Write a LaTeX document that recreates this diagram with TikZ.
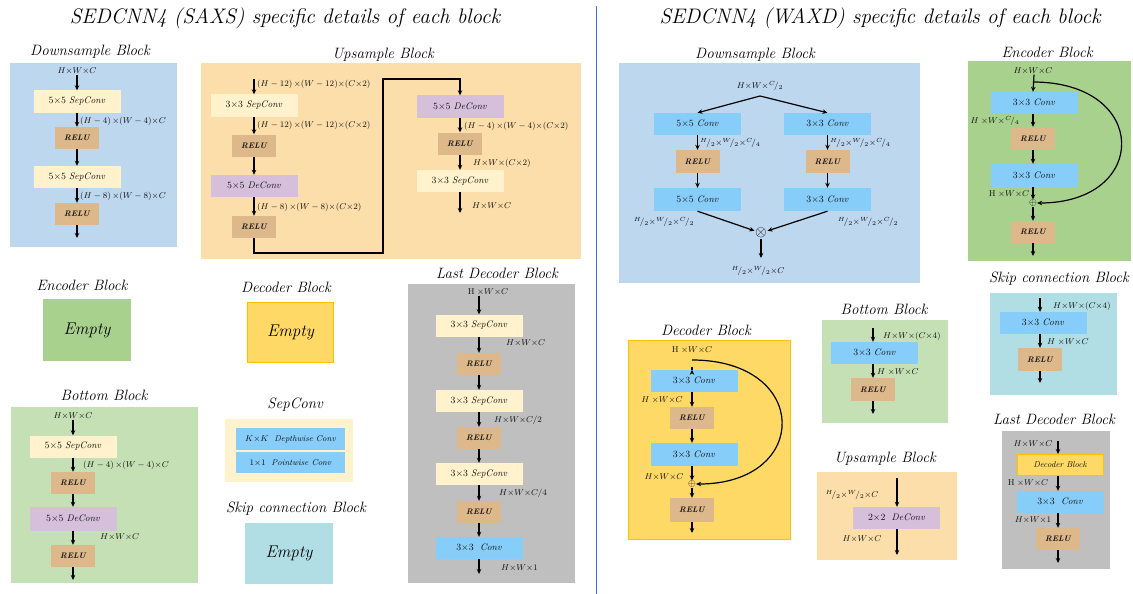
\RequirePackage{fix-cm}
\documentclass[tikz,border=0pt]{standalone}
\usetikzlibrary{arrows.meta,calc}
\definecolor{dsblue}{HTML}{BDD7EE}
\definecolor{sepy}{HTML}{FFF2CC}
\definecolor{reluc}{HTML}{DCB88A}
\definecolor{decv}{HTML}{D5BFDB}
\definecolor{upor}{HTML}{FCDEAA}
\definecolor{greyc}{HTML}{BFBFBF}
\definecolor{encg}{HTML}{A9D18E}
\definecolor{decy}{HTML}{FFD966}
\definecolor{decor}{HTML}{FFC000}
\definecolor{botg}{HTML}{C5E0B4}
\definecolor{convb}{HTML}{87CDF9}
\definecolor{skipb}{HTML}{B0DEE4}
\definecolor{divc}{HTML}{4472C4}
\definecolor{ink}{HTML}{101010}
\newcommand{\sfr}[2]{{}^{#1}\!/_{#2}}
\begin{document}
\begin{tikzpicture}[x=1pt,y=-1pt,
  head/.style={font=\fontsize{21}{25}\selectfont\itshape, inner sep=0},
  ttl/.style={font=\fontsize{15}{17}\selectfont\itshape, inner sep=0},
  lbl/.style={font=\fontsize{8.5}{10}\selectfont, inner sep=0, text=ink},
  bx/.style={minimum width=87pt, minimum height=22pt, inner sep=0, text=ink,
             font=\fontsize{9.5}{11}\selectfont},
  sep/.style={bx, fill=sepy},
  dec/.style={bx, fill=decv},
  conv/.style={bx, fill=convb},
  relu/.style={bx, minimum width=44pt, fill=reluc,
               font=\fontsize{8}{9}\selectfont\bfseries\itshape},
  emptybox/.style={minimum width=88pt, minimum height=62pt, inner sep=0,
                   font=\fontsize{17}{19}\selectfont\itshape},
  arr/.style={-{Stealth[length=5pt,width=4.5pt]}, line width=1.2pt},
  sum/.style={inner sep=0, font=\fontsize{10}{10}\selectfont},
]
\useasboundingbox (0,0) rectangle (1133,594);

% headings and divider
\node[head] (hl) at (285,18) {SEDCNN4 (SAXS) specific details of each block};
\node[head] (hr) at (880,18) {SEDCNN4 (WAXD) specific details of each block};
\draw[divc, line width=1pt] (596,6) -- (596,594);

% ---------------- SAXS: downsample block
\node[ttl] at (90,52) {Downsample Block};
\fill[dsblue] (10,63) rectangle (177,247);
\node[lbl] (a0) at (77,71) {$H{\times}W{\times}C$};
\node[sep] (a1) at (77,101.5) {$5{\times}5$ \textit{SepConv}};
\node[relu] (a2) at (77,138) {RELU};
\node[sep] (a3) at (77,177) {$5{\times}5$ \textit{SepConv}};
\node[relu] (a4) at (77,214) {RELU};
\coordinate (a5) at (77,238);
\draw[arr] (a0.south) -- (a1.north);
\draw[arr] (a1) -- (a2);
\draw[arr] (a2) -- (a3);
\draw[arr] (a3) -- (a4);
\draw[arr] (a4.south) -- (a5);
\node[lbl, anchor=west] at (80,121) {$(H-4)\,{\times}(W-4){\times}C$};
\node[lbl, anchor=west] at (80,196) {$(H-8)\,{\times}(W-8){\times}C$};

% ---------------- SAXS: upsample block
\node[ttl] at (383,55) {Upsample Block};
\fill[upor] (201,63) rectangle (581,259);
\coordinate (b0) at (254,79);
\node[sep] (b1) at (254,105.5) {$3{\times}3$ \textit{SepConv}};
\node[relu] (b2) at (254,145.5) {RELU};
\node[dec] (b3) at (254,186) {$5{\times}5$ \textit{DeConv}};
\node[relu] (b4) at (254,227) {RELU};
\coordinate (bk1) at (383,253);
\coordinate (bk2) at (383,79);
\node[dec] (b7) at (460,106.5) {$5{\times}5$ \textit{DeConv}};
\node[relu] (b8) at (460,143.5) {RELU};
\node[sep] (b9) at (460,181) {$3{\times}3$ \textit{SepConv}};
\coordinate (b10) at (460,213);
\draw[arr] (b0) -- (b1.north);
\draw[arr] (b1) -- (b2);
\draw[arr] (b2) -- (b3);
\draw[arr] (b3) -- (b4);
\draw[arr, line width=1.4pt] (b4.south) |- (bk1) -- (bk2) -| (b7.north);
\draw[arr] (b7) -- (b8);
\draw[arr] (b8) -- (b9);
\draw[arr] (b9.south) -- (b10);
\node[lbl, anchor=west] at (257,84) {$(H-12)\,{\times}(W-12){\times}(C{\times}2)$};
\node[lbl, anchor=west] at (257,125) {$(H-12)\,{\times}(W-12){\times}(C{\times}2)$};
\node[lbl, anchor=west] at (257,207) {$(H-8)\,{\times}(W-8){\times}(C{\times}2)$};
\node[lbl, anchor=west] at (464,126) {$(H-4)\,{\times}(W-4){\times}(C{\times}2)$};
\node[lbl, anchor=west] at (473,163) {$H{\times}W{\times}(C{\times}2)$};
\node[lbl, anchor=west] at (472,206) {$H{\times}W{\times}C$};

% ---------------- SAXS: encoder / decoder blocks
\node[ttl] at (82,285) {Encoder Block};
\node[emptybox, fill=encg] (enc) at (87,330) {Empty};
\node[ttl] at (286,287) {Decoder Block};
\node[emptybox, fill=decy, draw=decor, line width=1pt, minimum width=86pt,
      minimum height=60pt] (dcd) at (290.5,332.5) {Empty};

% ---------------- SAXS: bottom block
\node[ttl] at (104,395) {Bottom Block};
\fill[botg] (11,407) rectangle (198,583);
\node[lbl] (c0) at (73,416) {$H{\times}W{\times}C$};
\node[sep] (c1) at (73,446.5) {$5{\times}5$ \textit{SepConv}};
\node[relu] (c2) at (73,483) {RELU};
\node[dec, minimum height=24pt] (c3) at (73,519) {$5{\times}5$ \textit{DeConv}};
\node[relu] (c4) at (73,556) {RELU};
\coordinate (c5) at (73,580);
\draw[arr] (c0.south) -- (c1.north);
\draw[arr] (c1) -- (c2);
\draw[arr] (c2) -- (c3);
\draw[arr] (c3) -- (c4);
\draw[arr] (c4.south) -- (c5);
\node[lbl, anchor=west] at (83,465) {$(H-4)\,{\times}(W-4){\times}C$};
\node[lbl, anchor=west] at (100,537) {$H{\times}W{\times}C$};

% ---------------- SAXS: separable convolution
\node[ttl] at (295,405) {SepConv};
\fill[sepy] (225,419) rectangle (353,482);
\node[conv, minimum width=109pt, font=\fontsize{8.5}{10}\selectfont] (sc1) at (290.5,439) {$K{\times}K$\ \ \textit{Depthwise Conv}};
\node[conv, minimum width=109pt, minimum height=21pt, font=\fontsize{8.5}{10}\selectfont] (sc2) at (290.5,462.5) {$1{\times}1$\ \ \textit{Pointwise Conv}};

% ---------------- SAXS: skip connection block
\node[ttl] at (296,509) {Skip connection Block};
\node[emptybox, fill=skipb, minimum height=61pt] (skp) at (289,553.5) {Empty};

% ---------------- SAXS: last decoder block
\node[ttl] at (497,273) {Last Decoder Block};
\fill[greyc] (408,284) rectangle (575,583);
\node[lbl] (d0) at (488,292) {$\mathrm{H}\;{\times}W{\times}C$};
\node[sep] (d1) at (479,325.5) {$3{\times}3$ \textit{SepConv}};
\node[relu] (d2) at (479,364) {RELU};
\node[sep] (d3) at (479,401) {$3{\times}3$ \textit{SepConv}};
\node[relu] (d4) at (479,438) {RELU};
\node[sep] (d5) at (479,474) {$3{\times}3$ \textit{SepConv}};
\node[relu] (d6) at (479,512) {RELU};
\node[conv] (d7) at (479,548) {$3{\times}3$\ \ \textit{Conv}};
\coordinate (d8) at (479,574);
\draw[arr] (d1.north |- d0.south) -- (d1.north);
\draw[arr] (d1) -- (d2);
\draw[arr] (d2) -- (d3);
\draw[arr] (d3) -- (d4);
\draw[arr] (d4) -- (d5);
\draw[arr] (d5) -- (d6);
\draw[arr] (d6) -- (d7);
\draw[arr] (d7.south) -- (d8);
\node[lbl, anchor=west] at (506,343) {$H{\times}W{\times}C$};
\node[lbl, anchor=west] at (494,420) {$H{\times}W{\times}C/2$};
\node[lbl, anchor=west] at (499,493) {$H{\times}W{\times}C/4$};
\node[lbl, anchor=west] at (501,568) {$H{\times}W{\times}1$};

% ---------------- WAXD: downsample block
\node[ttl] at (755,55) {Downsample Block};
\fill[dsblue] (619,63) rectangle (920,283);
\node[lbl] (e0) at (760,86) {$H{\times}W{\times}\sfr{C}{2}$};
\coordinate (es) at (760,96);
\node[conv] (el1) at (697.5,124) {$5{\times}5$ \textit{Conv}};
\node[conv] (er1) at (827.5,124) {$3{\times}3$ \textit{Conv}};
\node[relu, minimum height=23pt] (el2) at (697.5,161.5) {RELU};
\node[relu, minimum height=23pt] (er2) at (827.5,161.5) {RELU};
\node[conv, minimum height=23pt] (el3) at (697.5,199.5) {$5{\times}5$ \textit{Conv}};
\node[conv, minimum height=23pt] (er3) at (827.5,199.5) {$3{\times}3$ \textit{Conv}};
\node[inner sep=0.5pt, font=\fontsize{15}{15}\selectfont] (ot) at (761,233) {$\otimes$};
\coordinate (eo) at (761,258);
\draw[arr] (es) -- (el1.north);
\draw[arr] (es) -- (er1.north);
\draw[arr] (el1) -- (el2);
\draw[arr] (er1) -- (er2);
\draw[arr] (el2) -- (el3);
\draw[arr] (er2) -- (er3);
\draw[arr] (el3.south) -- (ot);
\draw[arr] (er3.south) -- (ot);
\draw[arr] (ot) -- (eo);
\node[lbl, anchor=west] at (700,143) {$\sfr{H}{2}{\times}\sfr{W}{2}{\times}\sfr{C}{4}$};
\node[lbl, anchor=west] at (830,143) {$\sfr{H}{2}{\times}\sfr{W}{2}{\times}\sfr{C}{4}$};
\node[lbl] at (664,222) {$\sfr{H}{2}{\times}\sfr{W}{2}{\times}\sfr{C}{2}$};
\node[lbl] at (868,222) {$\sfr{H}{2}{\times}\sfr{W}{2}{\times}\sfr{C}{2}$};
\node[lbl] at (758,271) {$\sfr{H}{2}{\times}\sfr{W}{2}{\times}C$};

% ---------------- WAXD: encoder block
\node[ttl] at (1047,52) {Encoder Block};
\fill[encg] (968,61) rectangle (1131,261);
\node[lbl] (f0) at (1033,71) {$H{\times}W{\times}C$};
\node[conv] (f1) at (1034,103) {$3{\times}3$ \textit{Conv}};
\node[relu, minimum height=23pt] (f2) at (1033,138.5) {RELU};
\node[conv, minimum height=23pt] (f3) at (1034,175.5) {$3{\times}3$ \textit{Conv}};
\node[sum] (fs) at (1033,203) {$\oplus$};
\node[relu] (f4) at (1033,232) {RELU};
\coordinate (f5) at (1033,256);
\coordinate (fk) at (1033,82);
\draw[arr] (f1.north |- f0.south) -- (f1.north -| fk);
\draw[arr] (f1.south -| fk) -- (f2.north);
\draw[arr] (f2) -- (f3.north -| f2);
\draw[arr] (f3.south -| fs) -- (fs.north);
\draw[arr] (fs.south) -- (f4.north);
\draw[arr] (f4.south) -- (f5);
\draw[arr] (fk) .. controls (1150,82) and (1150,203) .. (fs.east);
\node[lbl] at (995,121) {$H\;{\times}W{\times}\sfr{C}{4}$};
\node[lbl] at (1009,194) {$\mathrm{H}\;{\times}W{\times}C$};

% ---------------- WAXD: decoder block
\node[ttl] at (706,330) {Decoder Block};
\filldraw[fill=decy, draw=decor, line width=1pt] (628,340) rectangle (790,539);
\node[lbl] (g0) at (692,350) {$\mathrm{H}\;{\times}W{\times}C$};
\node[conv] (g1) at (694,381) {$3{\times}3$ \textit{Conv}};
\node[relu] (g2) at (692,418) {RELU};
\node[conv, minimum height=23pt] (g3) at (694,454.5) {$3{\times}3$ \textit{Conv}};
\node[sum] (gs) at (692,484) {$\oplus$};
\node[relu, minimum height=24pt] (g4) at (692,510) {RELU};
\coordinate (g5) at (692,533);
\coordinate (gk) at (692,360);
\draw[arr] (g1.north -| gk |- g0.south) -- (g1.north -| gk);
\draw[arr] (g1.south -| gk) -- (g2.north);
\draw[arr] (g2.south) -- (g3.north -| g2);
\draw[arr] (g3.south -| gs) -- (gs.north);
\draw[arr] (gs.south) -- (g4.north);
\draw[arr] (g4.south) -- (g5);
\draw[arr] (gk) .. controls (811,360) and (811,484) .. (gs.east);
\node[lbl] at (662,400) {$H\;{\times}W{\times}C$};
\node[lbl] at (664,477) {$H{\times}W{\times}C$};

% ---------------- WAXD: bottom block
\node[ttl] at (884,309) {Bottom Block};
\fill[botg] (822,320) rectangle (948,423);
\coordinate (h0) at (873,328);
\node[conv] (h1) at (874.5,353) {$3{\times}3$ \textit{Conv}};
\node[relu, minimum height=23pt] (h2) at (873,389.5) {RELU};
\coordinate (h3) at (873,414);
\draw[arr] (h0) -- (h1.north -| h0);
\draw[arr] (h1.south -| h0) -- (h2.north);
\draw[arr] (h2.south) -- (h3);
\node[lbl, anchor=west] at (883,336) {$H{\times}W{\times}(C{\times}4)$};
\node[lbl, anchor=west] at (877,372) {$H\;{\times}W{\times}C$};

% ---------------- WAXD: upsample block
\node[ttl] at (885,459) {Upsample Block};
\fill[upor] (817,472) rectangle (957,560);
\coordinate (i0) at (897,478);
\node[dec] (i1) at (896.5,518) {$2{\times}2$\ \ \textit{DeConv}};
\coordinate (i2) at (897,555);
\draw[arr] (i0) -- (i1.north -| i0);
\draw[arr] (i1.south -| i0) -- (i2);
\node[lbl] at (852,495) {$\sfr{H}{2}{\times}\sfr{W}{2}{\times}C$};
\node[lbl] at (862,539) {$H{\times}W{\times}C$};

% ---------------- WAXD: skip connection block
\node[ttl] at (1059,279) {Skip connection Block};
\fill[skipb] (990,293) rectangle (1117,395);
\coordinate (j0) at (1040,298);
\node[conv] (j1) at (1043,323) {$3{\times}3$ \textit{Conv}};
\node[relu, minimum height=23pt] (j2) at (1040,359.5) {RELU};
\coordinate (j3) at (1040,383);
\draw[arr] (j0) -- (j1.north -| j0);
\draw[arr] (j1.south -| j0) -- (j2.north);
\draw[arr] (j2.south) -- (j3);
\node[lbl, anchor=west] at (1053,306) {$H{\times}W{\times}(C{\times}4)$};
\node[lbl, anchor=west] at (1047,342) {$H\;{\times}W{\times}C$};

% ---------------- WAXD: last decoder block
\node[ttl] at (1054,419) {Last Decoder Block};
\fill[greyc] (1002,431) rectangle (1110,569);
\node[lbl] (k0) at (1033,444) {$H{\times}W{\times}C$};
\coordinate (kin) at (1058,441);
\node[bx, fill=decy, draw=decor, line width=1pt, minimum width=86pt, minimum height=21pt,
      font=\fontsize{8.5}{10}\selectfont\itshape] (k1) at (1060,465) {Decoder Block};
\node[conv] (k2) at (1060,502) {$3{\times}3$\ \ \textit{Conv}};
\node[relu] (k3) at (1058,539) {RELU};
\coordinate (k4) at (1058,563);
\draw[arr] (kin) -- (k1.north -| kin);
\draw[arr] (k1.south -| kin) -- (k2.north -| kin);
\draw[arr] (k2.south -| kin) -- (k3.north);
\draw[arr] (k3.south) -- (k4);
\node[lbl] at (1028,483) {$\mathrm{H}\;{\times}W{\times}C$};
\node[lbl] at (1033,520) {$H{\times}W{\times}1$};
\end{tikzpicture}
\end{document}
